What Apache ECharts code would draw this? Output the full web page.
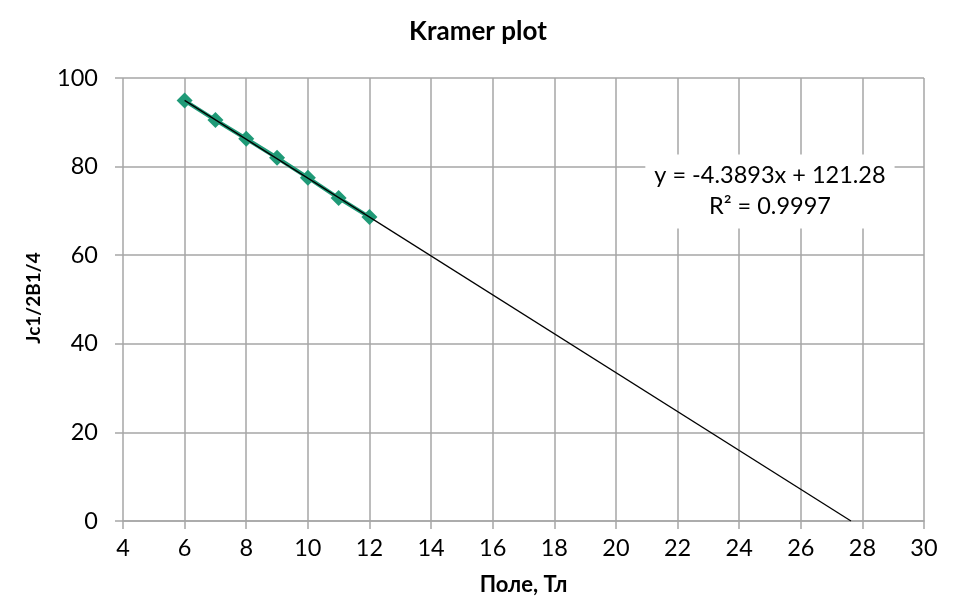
<!DOCTYPE html>
<html><head><meta charset="utf-8">
<script src="https://cdn.jsdelivr.net/npm/echarts@6/dist/echarts.min.js"></script>
<style>html,body{margin:0;padding:0;background:#fff}#c{width:956px;height:610px}</style>
</head><body><div id="c"></div>
<script>
var fieldT = [6, 7, 8, 9, 10, 11, 12];
var kramerY = [94.9, 90.5, 86.3, 82.0, 77.5, 72.9, 68.6];
var trendX = [6, 27.63];
var trendY = [94.94, 0];
var xTicks = [4, 6, 8, 10, 12, 14, 16, 18, 20, 22, 24, 26, 28, 30];
var yTicks = [0, 20, 40, 60, 80, 100];
var eqText = 'y = -4.3893x + 121.28';
var r2Text = 'R² = 0.9997';
var titleText = 'Kramer plot';
var xName = 'Поле, Тл';
var yName = 'Jc1/2B1/4';

var FONT = 'Lato, "Open Sans", sans-serif';
var chart = echarts.init(document.getElementById('c'));
var gridColor = '#a6a6a6';
chart.setOption({
  animation: false,
  title: {text: titleText, left: 'center', top: 19, padding: 0,
    textStyle: {fontFamily: FONT, fontSize: 26, fontWeight: 'bold', color: '#000'}},
  grid: {left: 123, right: 32, top: 78, bottom: 89},
  graphic: [{
    type: 'text', x: 34, y: 298, rotation: Math.PI / 2,
    style: {text: yName, fontFamily: FONT, fontSize: 19, fontWeight: 'bold', fill: '#000',
      align: 'center', verticalAlign: 'middle'}
  }],
  xAxis: {
    type: 'value', min: xTicks[0], max: xTicks[xTicks.length-1], interval: 2,
    name: xName, nameLocation: 'middle', nameGap: 53,
    nameTextStyle: {fontFamily: FONT, fontSize: 22, fontWeight: 'bold', color: '#000'},
    axisLine: {show: true, lineStyle: {color: gridColor, width: 1.5}},
    axisTick: {show: true, length: 8, lineStyle: {color: gridColor, width: 1.5}},
    axisLabel: {fontFamily: FONT, fontSize: 23.5, color: '#000', margin: 15},
    splitLine: {show: true, lineStyle: {color: gridColor, width: 1.5}}
  },
  yAxis: {
    type: 'value', min: yTicks[0], max: yTicks[yTicks.length-1], interval: 20,
    axisLine: {show: false},
    axisTick: {show: true, length: 8, lineStyle: {color: gridColor, width: 1.5}},
    axisLabel: {fontFamily: FONT, fontSize: 23.5, color: '#000', margin: 25},
    splitLine: {show: true, lineStyle: {color: gridColor, width: 1.5}}
  },
  series: [
    {
      type: 'line', data: fieldT.map(function(x, i){return [x, kramerY[i]];}),
      symbol: 'diamond', symbolSize: 16, showAllSymbol: true,
      lineStyle: {color: '#1f9a77', width: 4},
      itemStyle: {color: '#1f9a77', borderWidth: 0},
      z: 2
    },
    {
      type: 'line', data: trendX.map(function(x, i){return [x, trendY[i]];}),
      symbol: 'none', lineStyle: {color: '#000', width: 1.3}, z: 3,
      markPoint: {
        symbol: 'rect', symbolSize: 0,
        data: [{coord: [25.0, 74.4]}],
        label: {show: true, formatter: eqText + '\n' + r2Text, fontFamily: FONT, fontSize: 23.5,
          color: '#000', backgroundColor: '#fff', padding: [6, 9, 6, 9], lineHeight: 31, align: 'center'}
      }
    }
  ]
});
</script></body></html>
